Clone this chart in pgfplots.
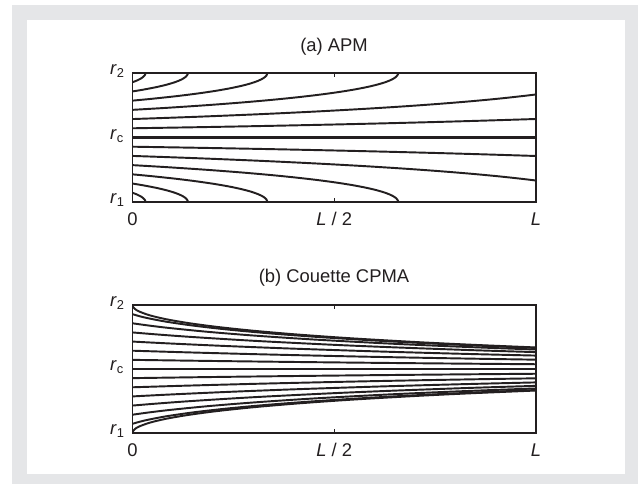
\documentclass[border=0pt]{standalone}
\usepackage{fontspec}
\setmainfont{Liberation Sans}
\usepackage{pgfplots}
\pgfplotsset{compat=1.18}
\definecolor{ink}{RGB}{35,31,32}
\definecolor{framegray}{RGB}{229,230,232}

\pgfplotsset{
  flowbox/.style={
    anchor=south west,
    scale only axis,
    width=302.6pt,
    xmin=0, xmax=1, ymin=0, ymax=1,
    axis line style={ink, line width=1.2pt},
    xtick={0,0.5,1},
    xticklabels={0,\textit{L} / 2,\textit{L}},
    ytick={0,0.5,1},
    yticklabels={\textit{r}\textsubscript{1},\textit{r}\textsubscript{c},\textit{r}\textsubscript{2}},
    ytick style={draw=none},
    xtick style={ink, line width=0.8pt},
    major tick length=3pt,
    tick label style={font=\fontsize{13.8}{16}\selectfont, text=ink},
    xticklabel style={anchor=base, yshift=-17.5pt},
    yticklabel style={anchor=base west, inner sep=0pt, xshift=-16.9pt, yshift=-1.5pt},
  },
  traj/.style={ink, line width=1.45pt, smooth},
  axisline/.style={ink, line width=1.6pt},
}

\begin{document}
\begin{tikzpicture}
\fill[white] (0pt,0pt) rectangle (478.5pt,363pt);
\fill[framegray] (9pt,0pt) rectangle (478.5pt,359.25pt);
\fill[white] (20.25pt,7.5pt) rectangle (468.75pt,348pt);

% (a) APM
\begin{axis}[flowbox, at={(99.375pt,211.5pt)}, height=96.75pt]
\addplot[axisline] coordinates {(0,0.5) (0.5,0.5) (1,0.5)};
\addplot[traj] coordinates {(0,0.5714) (0.1661,0.58) (0.3377,0.59) (0.49,0.60) (0.6267,0.61) (0.7503,0.62) (0.8628,0.63) (0.9659,0.64) (1,0.6434)};
\addplot[traj] coordinates {(0,0.6429) (0.1544,0.66) (0.3107,0.68) (0.4459,0.70) (0.5637,0.72) (0.6666,0.74) (0.7566,0.76) (0.8354,0.78) (0.9041,0.80) (0.9637,0.82) (1,0.8336)};
\addplot[traj] coordinates {(0,0.7143) (0.0853,0.73) (0.1815,0.75) (0.2658,0.77) (0.3394,0.79) (0.4033,0.81) (0.4588,0.83) (0.5062,0.85) (0.5464,0.87) (0.5797,0.89) (0.6067,0.91) (0.6278,0.93) (0.6432,0.95) (0.6532,0.97) (0.6581,0.99) (0.6587,1)};
\addplot[traj] coordinates {(0,0.7857) (0.0481,0.80) (0.1077,0.82) (0.159,0.84) (0.2028,0.86) (0.2395,0.88) (0.2696,0.90) (0.2937,0.92) (0.3118,0.94) (0.3245,0.96) (0.3319,0.98) (0.3343,1)};
\addplot[traj] coordinates {(0,0.8571) (0.0058,0.86) (0.0251,0.87) (0.0583,0.89) (0.0853,0.91) (0.1063,0.93) (0.1218,0.95) (0.1318,0.97) (0.1367,0.99) (0.1373,1)};
\addplot[traj] coordinates {(0,0.9286) (0.0097,0.94) (0.0224,0.96) (0.0298,0.98) (0.0316,0.99) (0.0322,1)};
\addplot[traj] coordinates {(0,0.4286) (0.1661,0.42) (0.3377,0.41) (0.49,0.40) (0.6267,0.39) (0.7503,0.38) (0.8628,0.37) (0.9659,0.36) (1,0.3566)};
\addplot[traj] coordinates {(0,0.3571) (0.1544,0.34) (0.3107,0.32) (0.4459,0.30) (0.5637,0.28) (0.6666,0.26) (0.7566,0.24) (0.8354,0.22) (0.9041,0.20) (0.9637,0.18) (1,0.1664)};
\addplot[traj] coordinates {(0,0.2857) (0.0853,0.27) (0.1815,0.25) (0.2658,0.23) (0.3394,0.21) (0.4033,0.19) (0.4588,0.17) (0.5062,0.15) (0.5464,0.13) (0.5797,0.11) (0.6067,0.09) (0.6278,0.07) (0.6432,0.05) (0.6532,0.03) (0.6581,0.01) (0.6587,0)};
\addplot[traj] coordinates {(0,0.2143) (0.0481,0.20) (0.1077,0.18) (0.159,0.16) (0.2028,0.14) (0.2395,0.12) (0.2696,0.10) (0.2937,0.08) (0.3118,0.06) (0.3245,0.04) (0.3319,0.02) (0.3343,0)};
\addplot[traj] coordinates {(0,0.1429) (0.0058,0.14) (0.0251,0.13) (0.0583,0.11) (0.0853,0.09) (0.1063,0.07) (0.1218,0.05) (0.1318,0.03) (0.1367,0.01) (0.1373,0)};
\addplot[traj] coordinates {(0,0.0714) (0.0097,0.06) (0.0224,0.04) (0.0298,0.02) (0.0316,0.01) (0.0322,0)};
\end{axis}

% (b) Couette CPMA
\begin{axis}[flowbox, at={(99.375pt,38.25pt)}, height=96pt]
\addplot[axisline] coordinates {(0,0.5) (0.5,0.5) (1,0.5)};
\addplot[traj] coordinates {(0,1) (0.0006,0.99) (0.0057,0.97) (0.016,0.95) (0.0421,0.92) (0.0816,0.89) (0.136,0.86) (0.2066,0.83) (0.2958,0.80) (0.4061,0.77) (0.5413,0.74) (0.7063,0.71) (0.8367,0.69) (0.9867,0.67) (1,0.6683)};
\addplot[traj] coordinates {(0,0.9286) (0.0088,0.92) (0.0335,0.90) (0.0828,0.87) (0.1479,0.84) (0.2305,0.81) (0.3335,0.78) (0.4598,0.75) (0.6142,0.72) (0.7359,0.70) (0.8757,0.68) (1,0.6643)};
\addplot[traj] coordinates {(0,0.8571) (0.0392,0.84) (0.0922,0.82) (0.1881,0.79) (0.3063,0.76) (0.4508,0.73) (0.6273,0.70) (0.7671,0.68) (0.8859,0.665) (1,0.652)};
\addplot[traj] coordinates {(0,0.7857) (0.0606,0.77) (0.1477,0.75) (0.3022,0.72) (0.4913,0.69) (0.6413,0.67) (0.8155,0.65) (0.9133,0.64) (1,0.6318)};
\addplot[traj] coordinates {(0,0.7143) (0.0885,0.70) (0.2284,0.68) (0.3898,0.66) (0.5782,0.64) (0.7415,0.625) (0.8633,0.615) (1,0.6048)};
\addplot[traj] coordinates {(0,0.6429) (0.1353,0.63) (0.314,0.615) (0.5206,0.60) (0.6779,0.59) (0.8553,0.58) (1,0.5728)};
\addplot[traj] coordinates {(0,0.5714) (0.1435,0.565) (0.2656,0.56) (0.3988,0.555) (0.5448,0.55) (0.7066,0.545) (0.8878,0.54) (1,0.5372)};
\addplot[traj] coordinates {(0,0.4286) (0.1435,0.435) (0.2656,0.44) (0.3988,0.445) (0.5448,0.45) (0.7066,0.455) (0.8878,0.46) (1,0.4628)};
\addplot[traj] coordinates {(0,0.3571) (0.1353,0.37) (0.314,0.385) (0.5206,0.40) (0.6779,0.41) (0.8553,0.42) (1,0.4272)};
\addplot[traj] coordinates {(0,0.2857) (0.0885,0.30) (0.2284,0.32) (0.3898,0.34) (0.5782,0.36) (0.7415,0.375) (0.8633,0.385) (1,0.3952)};
\addplot[traj] coordinates {(0,0.2143) (0.0606,0.23) (0.1477,0.25) (0.3022,0.28) (0.4913,0.31) (0.6413,0.33) (0.8155,0.35) (0.9133,0.36) (1,0.3682)};
\addplot[traj] coordinates {(0,0.1429) (0.0392,0.16) (0.0922,0.18) (0.1881,0.21) (0.3063,0.24) (0.4508,0.27) (0.6273,0.30) (0.7671,0.32) (0.8859,0.335) (1,0.348)};
\addplot[traj] coordinates {(0,0.0714) (0.0088,0.08) (0.0335,0.10) (0.0828,0.13) (0.1479,0.16) (0.2305,0.19) (0.3335,0.22) (0.4598,0.25) (0.6142,0.28) (0.7359,0.30) (0.8757,0.32) (1,0.3357)};
\addplot[traj] coordinates {(0,0) (0.0006,0.01) (0.0057,0.03) (0.016,0.05) (0.0421,0.08) (0.0816,0.11) (0.136,0.14) (0.2066,0.17) (0.2958,0.20) (0.4061,0.23) (0.5413,0.26) (0.7063,0.29) (0.8367,0.31) (0.9867,0.33) (1,0.3317)};
\end{axis}

\node[anchor=base, text=ink, font=\fontsize{13.8}{16}\selectfont] at (250.5pt,324.2pt) {(a) APM};
\node[anchor=base, text=ink, font=\fontsize{13.8}{16}\selectfont] at (250.5pt,150.75pt) {(b) Couette CPMA};
\end{tikzpicture}
\end{document}
